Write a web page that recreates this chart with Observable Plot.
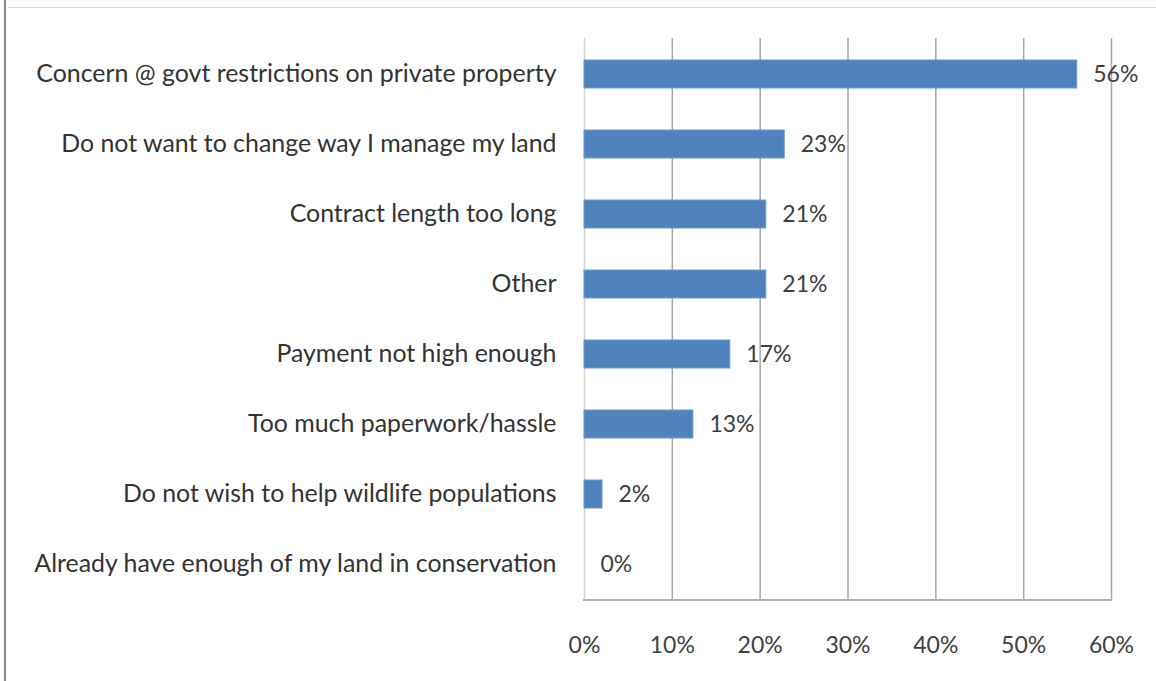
<!DOCTYPE html>
<html>
<head>
<meta charset="utf-8">
<script src="https://cdn.jsdelivr.net/npm/d3@7"></script>
<script src="https://cdn.jsdelivr.net/npm/@observablehq/plot@0.6"></script>
<style>
  html, body { margin: 0; padding: 0; background: #fff; }
  #frame { position: relative; width: 1156px; height: 681px; overflow: hidden; }
  #frame .lb { position: absolute; left: 4px; top: 0; width: 2px; height: 681px; background: #8a8a8a; }
  #frame .tb { position: absolute; left: 8px; top: 7px; width: 1148px; height: 1px; background: #dcdcdc; }
  #chart { position: absolute; left: 0; top: 0; }
</style>
</head>
<body>
<div id="frame"><div class="lb"></div><div class="tb"></div><div id="chart"></div></div>
<script>
const categories = [
  "Concern @ govt restrictions on private property",
  "Do not want to change way I manage my land",
  "Contract length too long",
  "Other",
  "Payment not high enough",
  "Too much paperwork/hassle",
  "Do not wish to help wildlife populations",
  "Already have enough of my land in conservation"
];
const values = [56.1, 22.8, 20.7, 20.7, 16.6, 12.4, 2.05, 0];
const valueLabels = ["56%", "23%", "21%", "21%", "17%", "13%", "2%", "0%"];
const xTicks = [0, 10, 20, 30, 40, 50, 60];

const data = categories.map((c, i) => ({category: c, value: values[i], label: valueLabels[i]}));

const chart = Plot.plot({
  width: 1156,
  height: 681,
  marginLeft: 584,
  marginRight: 45,
  marginTop: 38,
  marginBottom: 81,
  style: {fontFamily: "Lato, 'Open Sans', sans-serif", fontSize: "24px", color: "#404040", background: "transparent"},
  x: {domain: [0, 60], ticks: xTicks, tickFormat: d => d + "%", label: null},
  y: {domain: categories, paddingInner: 0.6, paddingOuter: 0.3, label: null},
  marks: [
    Plot.ruleX(xTicks.filter(d => d > 0), {stroke: "#a6a6a6", strokeWidth: 1.5}),
    Plot.ruleX([0], {stroke: "#d4d4d4", strokeWidth: 1.5}),
    Plot.barX(data, {x: "value", y: "category", fill: "#4f81bd", stroke: "#6f9bd0", strokeWidth: 1}),
    Plot.text(data, {x: "value", y: "category", text: "label", dx: 16, textAnchor: "start", fill: "#404040", fontSize: 23}),
    Plot.axisX({ticks: xTicks, tickFormat: d => d + "%", tickSize: 0, tickPadding: 36, fontSize: 23, fill: "#404040"}),
    Plot.axisY({tickSize: 0, tickPadding: 28, fontSize: 24.9, fill: "#333"})
  ]
});

document.getElementById("chart").appendChild(chart);
const sx = chart.scale("x");
d3.select(chart).append("line")
  .attr("x1", sx.apply(0) - 1).attr("x2", sx.apply(60) + 1)
  .attr("y1", 681 - 81).attr("y2", 681 - 81)
  .attr("stroke", "#b0b0b0").attr("stroke-width", 2);
</script>
</body>
</html>
